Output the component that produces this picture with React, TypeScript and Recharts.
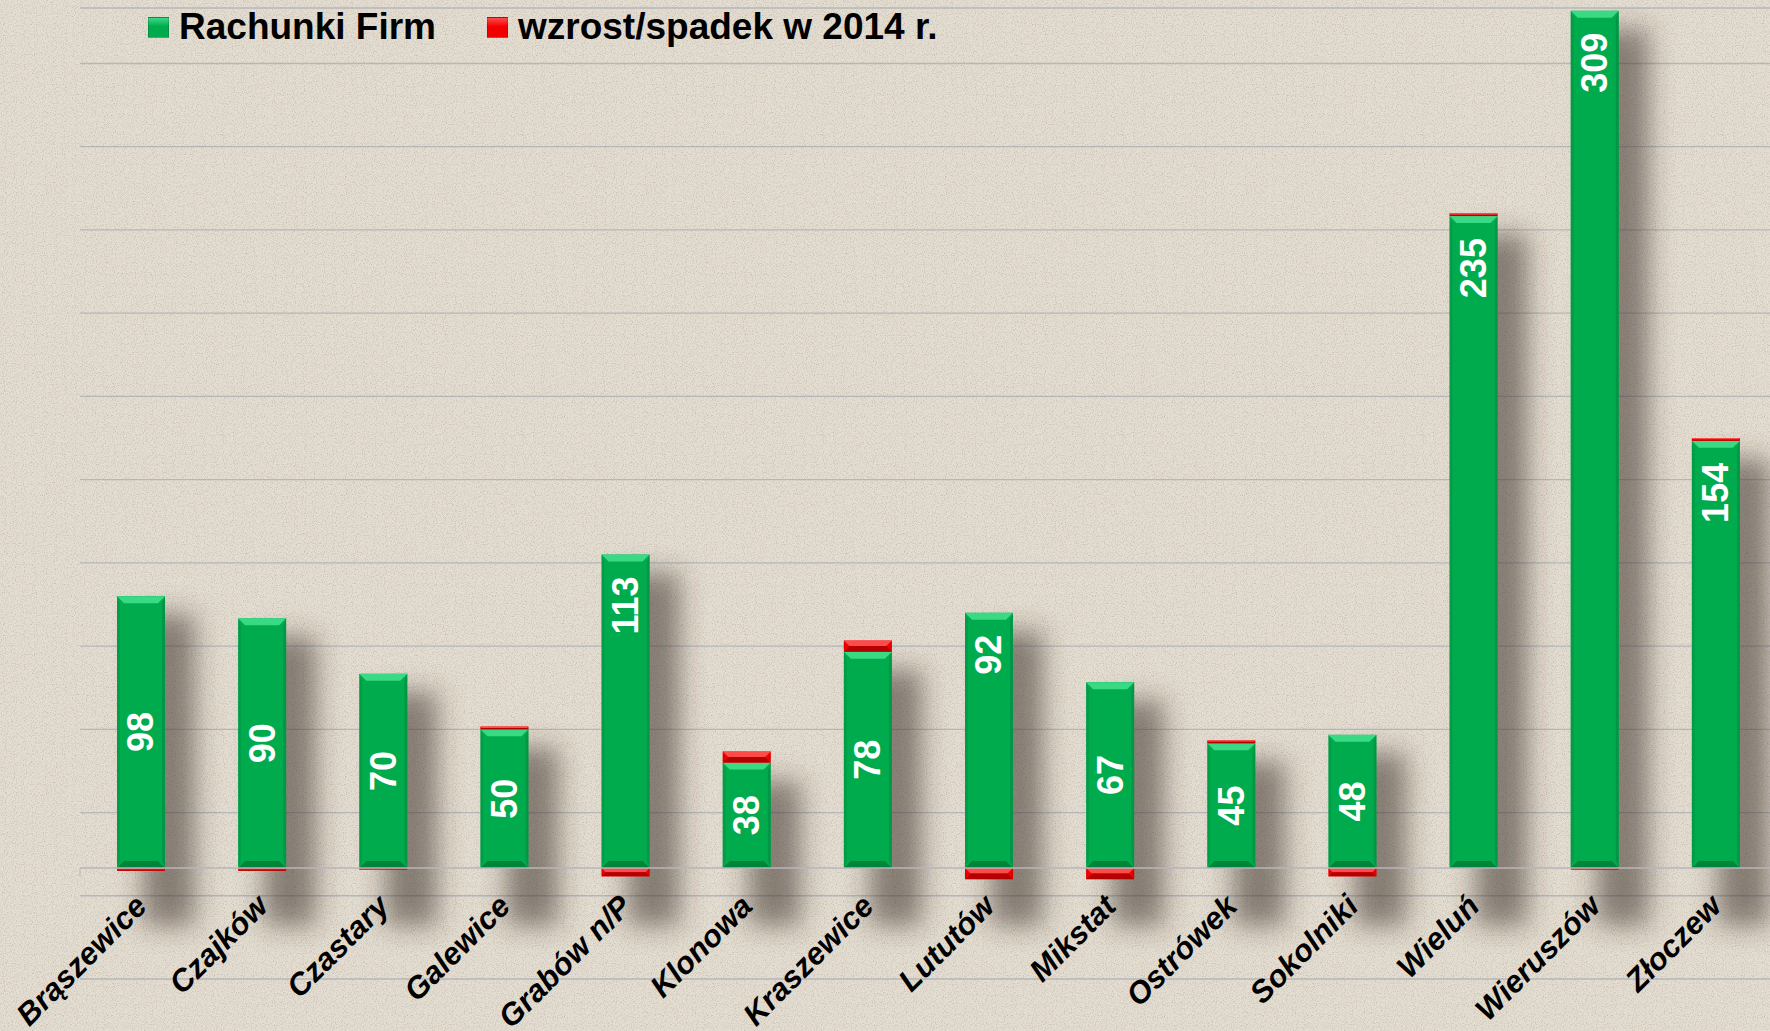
import { BarChart, Bar, XAxis, YAxis, CartesianGrid, ReferenceLine, LabelList } from "recharts";

const categories = [
  "Brąszewice", "Czajków", "Czastary", "Galewice", "Grabów n/P", "Klonowa", "Kraszewice",
  "Lututów", "Mikstat", "Ostrówek", "Sokolniki", "Wieluń", "Wieruszów", "Złoczew"
];
const accounts = [98, 90, 70, 50, 113, 38, 78, 92, 67, 45, 48, 235, 309, 154];
const change2014 = [-1, -1, -0.5, 1, -3, 4, 4, -4, -4, 1, -3, 1, -0.5, 1];
const yTicks = [-40, -10, 20, 50, 80, 110, 140, 170, 200, 230, 260, 290];
// labels drawn near the top of the bar instead of the middle
const topLabelCats = ["Grabów n/P", "Lututów", "Wieluń", "Wieruszów", "Złoczew"];

const seriesNames = ["Rachunki Firm", "wzrost/spadek w 2014 r."];

const data = categories.map((name, i) => ({
  name,
  firms: accounts[i],
  change: change2014[i],
}));

const W = 1776;
const H = 1031;
const MARGIN = { top: 8, right: 0, left: 80, bottom: 0 };
const X_AXIS_H = 52;
const Y_MIN = -40;
const Y_MAX = 310;
const plotH = H - MARGIN.top - MARGIN.bottom - X_AXIS_H;
const zeroY = MARGIN.top + (Y_MAX / (Y_MAX - Y_MIN)) * plotH;
const band = (W - MARGIN.left - MARGIN.right) / categories.length;

const FONT = "'Liberation Sans', Arial, sans-serif";

const noise =
  "url(\"data:image/svg+xml;utf8," +
  encodeURIComponent(
    "<svg xmlns='http://www.w3.org/2000/svg' width='300' height='300'><filter id='n'><feTurbulence type='fractalNoise' baseFrequency='0.9' numOctaves='2' stitchTiles='stitch'/><feColorMatrix values='0 0 0 0 0.45 0 0 0 0 0.4 0 0 0 0 0.33 0 0 0 1.6 -0.75'/></filter><rect width='300' height='300' filter='url(#n)'/></svg>"
  ) +
  "\")";

function bevelBar(props: any, main: string, light: string, dark: string, shadow: boolean) {
  let { x, y, width, height } = props;
  if (height == null || width == null) return null;
  if (height < 0) {
    y = y + height;
    height = -height;
  }
  if (height < 0.5) height = 1;
  const b = Math.min(7, height / 2);
  return (
    <g>
      {shadow && (
        <rect
          x={x + 26}
          y={y + 18}
          width={width + 4}
          height={height + 40}
          fill="rgba(60,48,36,0.55)"
          filter="url(#barShadow)"
        />
      )}
      <rect x={x} y={y} width={width} height={height} fill={main} />
      <polygon points={`${x},${y} ${x + width},${y} ${x + width - b},${y + b} ${x + b},${y + b}`} fill={light} />
      <polygon
        points={`${x},${y + height} ${x + width},${y + height} ${x + width - b},${y + height - b} ${x + b},${y + height - b}`}
        fill={dark}
      />
      <polygon points={`${x},${y} ${x + b * 0.4},${y + b} ${x + b * 0.4},${y + height - b} ${x},${y + height}`} fill={dark} opacity={0.35} />
      <polygon
        points={`${x + width},${y} ${x + width - b * 0.4},${y + b} ${x + width - b * 0.4},${y + height - b} ${x + width},${y + height}`}
        fill={dark}
        opacity={0.5}
      />
    </g>
  );
}

const GreenShape = (props: any) => bevelBar(props, "#00AB4E", "#3AD983", "#00843B", true);
const RedShape = (props: any) => bevelBar(props, "#F20000", "#FF4A4A", "#B30000", false);

const ValueLabel = (props: any) => {
  const { x, y, width, height, value, index } = props;
  const cx = x + width / 2;
  const atTop = topLabelCats.includes(categories[index]);
  const cy = atTop ? y + 22 : y + height / 2;
  return (
    <text
      x={cx}
      y={cy}
      transform={`rotate(-90 ${cx} ${cy})`}
      textAnchor={atTop ? "end" : "middle"}
      dominantBaseline="central"
      fill="#fff"
      fontFamily={FONT}
      fontWeight="bold"
      fontSize={36}
    >
      {value}
    </text>
  );
};

const CategoryTick = (props: any) => {
  const { x, payload } = props;
  const ax = x + 8;
  const ay = zeroY + 40;
  const bx = x - band / 2;
  return (
    <g>
      <line x1={bx} y1={zeroY} x2={bx} y2={zeroY + 8} stroke="#B4B4B8" strokeWidth={1} />
      <text
        x={ax}
        y={ay}
        transform={`rotate(-45 ${ax} ${ay})`}
        textAnchor="end"
        fill="#000"
        fontFamily={FONT}
        fontWeight="bold"
        fontStyle="italic"
        fontSize={31}
      >
        {payload.value}
      </text>
    </g>
  );
};

const legendColors = [
  ["#00AB4E", "#3AD983"],
  ["#F20000", "#FF4A4A"],
];
const legendLefts = [148, 487];

export default function App() {
  return (
    <div
      style={{
        position: "absolute",
        left: 0,
        top: 0,
        width: 1770,
        height: H,
        overflow: "hidden",
        backgroundColor: "#E4DDD1",
        backgroundImage: noise,
      }}
    >
      <BarChart width={W} height={H} data={data} margin={MARGIN} stackOffset="sign" barSize={48}>
        <defs>
          <filter id="barShadow" x="-100%" y="-20%" width="300%" height="140%">
            <feGaussianBlur stdDeviation="13" />
          </filter>
        </defs>
        <CartesianGrid vertical={false} stroke="#B6B6BA" strokeWidth={1.3} />
        <XAxis
          dataKey="name"
          height={X_AXIS_H}
          axisLine={false}
          tickLine={false}
          interval={0}
          tick={<CategoryTick />}
        />
        <YAxis hide domain={[Y_MIN, Y_MAX]} ticks={yTicks} allowDataOverflow />
        <ReferenceLine y={0} stroke="#B6B6BA" strokeWidth={1.5} />
        <Bar dataKey="firms" stackId="a" name={seriesNames[0]} shape={GreenShape} isAnimationActive={false}>
          <LabelList dataKey="firms" content={<ValueLabel />} />
        </Bar>
        <Bar dataKey="change" stackId="a" name={seriesNames[1]} shape={RedShape} isAnimationActive={false} />
      </BarChart>
      {seriesNames.map((n, i) => (
        <div
          key={n}
          style={{
            position: "absolute",
            left: legendLefts[i],
            top: 6,
            display: "flex",
            alignItems: "center",
            fontFamily: FONT,
            fontWeight: "bold",
            fontSize: 37,
            color: "#000",
            whiteSpace: "nowrap",
          }}
        >
          <span
            style={{
              display: "inline-block",
              width: 19,
              height: 19,
              marginRight: 10,
              background: `linear-gradient(180deg, ${legendColors[i][1]} 0%, ${legendColors[i][0]} 45%, ${legendColors[i][0]} 100%)`,
              border: "1px solid rgba(0,0,0,0.15)",
            }}
          />
          <span>{n}</span>
        </div>
      ))}
    </div>
  );
}
